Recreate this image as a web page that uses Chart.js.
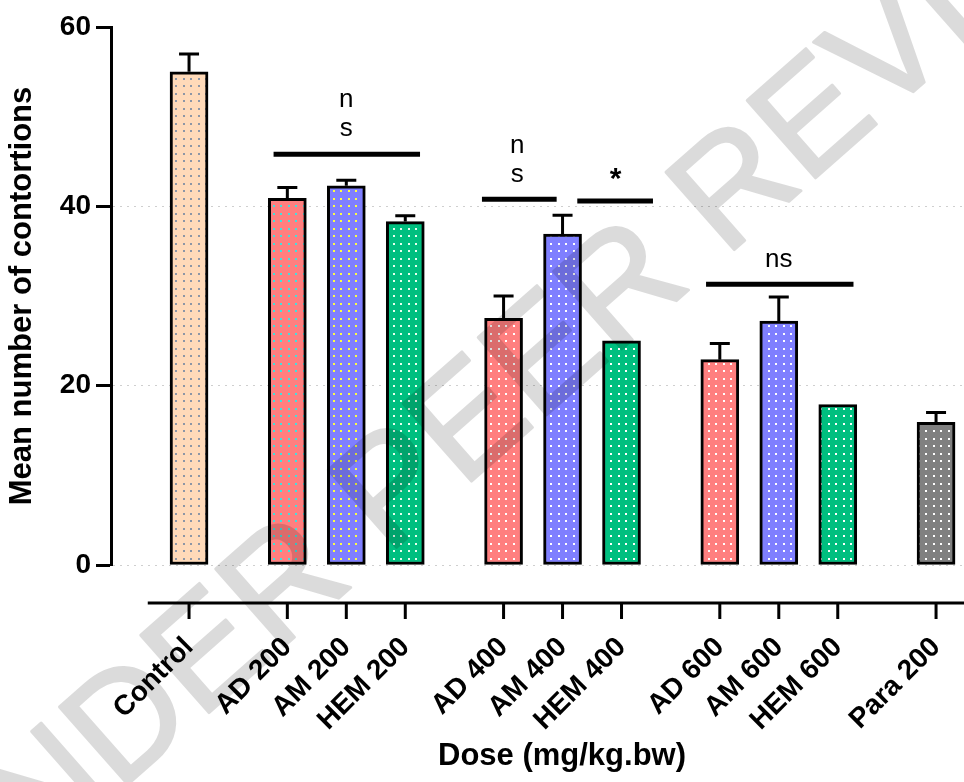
<!DOCTYPE html>
<html>
<head>
<meta charset="utf-8">
<script src="https://cdn.jsdelivr.net/npm/chart.js@4.4.1/dist/chart.umd.min.js"></script>
<style>
  html, body { margin: 0; padding: 0; background: #fff; }
  #wrap { width: 964px; height: 782px; position: relative; }
</style>
</head>
<body>
<div id="wrap"><canvas id="chart"></canvas></div>
<script>
const labels = ['Control', 'AD 200', 'AM 200', 'HEM 200', 'AD 400', 'AM 400', 'HEM 400', 'AD 600', 'AM 600', 'HEM 600', 'Para 200'];
const groupOf = [0, 1, 1, 1, 2, 2, 2, 3, 3, 3, 4];
const means = [55.0, 40.9, 42.3, 38.3, 27.5, 36.9, 25.0, 22.9, 27.2, 17.9, 15.9];
const sems = [2.0, 1.2, 0.6, 0.65, 2.5, 2.1, 0, 1.8, 2.7, 0, 1.1];
const yTicks = [0, 20, 40, 60];

// significance bars (x in slot units, y in data units) and their labels
const sigLines = [
  { from: 4.3, to: 11.75, y: 45.8 },
  { from: 14.9, to: 18.7, y: 40.8 },
  { from: 19.75, to: 23.6, y: 40.6 },
  { from: 26.3, to: 33.8, y: 31.3 }
];
const sigTexts = [
  { x: 8, y: 51.9, t: 'n' }, { x: 8, y: 48.6, t: 's' },
  { x: 16.7, y: 46.8, t: 'n' }, { x: 16.7, y: 43.5, t: 's' },
  { x: 21.7, y: 43.0, t: '*', bold: true },
  { x: 30, y: 34.0, t: 'ns' }
];

// three slots per bar, two extra slots between dose groups
const xPos = labels.map((_, i) => i * 3 + groupOf[i] * 2);

const FONT = '"Liberation Sans", Arial, sans-serif';
Chart.defaults.font.family = FONT;
Chart.defaults.color = '#000';

function dots(bg, dot) {
  const c = document.createElement('canvas');
  c.width = 15; c.height = 15;
  const g = c.getContext('2d');
  g.fillStyle = bg; g.fillRect(0, 0, 15, 15);
  g.fillStyle = dot;
  [[3, 3], [10, 3], [3, 10], [10, 10]].forEach(p => g.fillRect(p[0], p[1], 2, 2));
  return g.createPattern(c, 'repeat');
}
const fills = [
  dots('#ffdab9', '#8c96a6'),
  dots('#ff7f7f', '#40e0e0'), dots('#7f7fff', '#ffff40'), dots('#00bf7f', '#e8fff0'),
  dots('#ff7f7f', '#ffffff'), dots('#7f7fff', '#ffffff'), dots('#00bf7f', '#ffffff'),
  dots('#ff7f7f', '#ffffff'), dots('#7f7fff', '#ffffff'), dots('#00bf7f', '#ffffff'),
  dots('#808080', '#ffffff')
];

const extras = {
  id: 'extras',
  afterDatasetsDraw(chart) {
    const { ctx, chartArea, scales: { x, y } } = chart;
    const meta = chart.getDatasetMeta(0);
    ctx.save();
    ctx.strokeStyle = '#000';
    ctx.lineWidth = 3;
    // error bars (upper only)
    meta.data.forEach((bar, i) => {
      if (!sems[i]) return;
      const top = y.getPixelForValue(means[i] + sems[i]);
      ctx.beginPath();
      ctx.moveTo(bar.x, bar.y);
      ctx.lineTo(bar.x, top);
      ctx.moveTo(bar.x - 10, top);
      ctx.lineTo(bar.x + 10, top);
      ctx.stroke();
    });
    // detached x axis
    const ay = chartArea.bottom + 38;
    ctx.beginPath();
    ctx.moveTo(x.getPixelForValue(-2.1), ay);
    ctx.lineTo(chart.width, ay);
    xPos.forEach(v => {
      const px = x.getPixelForValue(v);
      ctx.moveTo(px, ay);
      ctx.lineTo(px, ay + 16);
    });
    ctx.stroke();
    // significance marks
    ctx.lineWidth = 5;
    sigLines.forEach(s => {
      const py = y.getPixelForValue(s.y);
      ctx.beginPath();
      ctx.moveTo(x.getPixelForValue(s.from), py);
      ctx.lineTo(x.getPixelForValue(s.to), py);
      ctx.stroke();
    });
    ctx.fillStyle = '#000';
    ctx.textAlign = 'center';
    ctx.textBaseline = 'middle';
    sigTexts.forEach(s => {
      ctx.font = (s.bold ? 'bold 30px ' : '26px ') + FONT;
      ctx.fillText(s.t, x.getPixelForValue(s.x), y.getPixelForValue(s.y));
    });
    // x axis title
    ctx.font = 'bold 31px ' + FONT;
    ctx.fillText('Dose (mg/kg.bw)', 562, 756);
    ctx.restore();
  },
  afterDraw(chart) {
    // review watermark, drawn opaque off-screen then laid over at low alpha
    const off = document.createElement('canvas');
    off.width = chart.width; off.height = chart.height;
    const g = off.getContext('2d');
    g.translate(535, 370);
    g.rotate(-41.4 * Math.PI / 180);
    g.font = '150px ' + FONT;
    g.fillStyle = '#000';
    g.strokeStyle = '#000';
    g.lineWidth = 3;
    g.lineJoin = 'round';
    g.textAlign = 'center';
    g.textBaseline = 'middle';
    g.fillText('UNDER PEER REVIEW', 0, 0);
    g.strokeText('UNDER PEER REVIEW', 0, 0);
    const { ctx } = chart;
    ctx.save();
    ctx.globalAlpha = 0.14;
    ctx.drawImage(off, 0, 0);
    ctx.restore();
  }
};

new Chart(document.getElementById('chart'), {
  type: 'bar',
  data: {
    datasets: [{
      data: means.map((m, i) => ({ x: xPos[i], y: m })),
      backgroundColor: fills,
      borderColor: '#000',
      borderWidth: 3,
      borderSkipped: false,
      barThickness: 38
    }]
  },
  options: {
    responsive: true,
    maintainAspectRatio: false,
    animation: false,
    layout: { padding: { top: 27, right: 2, left: 0, bottom: 0 } },
    plugins: { legend: { display: false }, tooltip: { enabled: false } },
    scales: {
      x: {
        type: 'linear', min: -3.97, max: 39.32, offset: false,
        grid: { display: true, offset: false, drawOnChartArea: false, drawTicks: true, tickLength: 66, color: 'rgba(0,0,0,0)', tickColor: 'rgba(0,0,0,0)' },
        border: { display: false },
        afterBuildTicks: s => { s.ticks = xPos.map(v => ({ value: v })); },
        afterFit: s => { s.height = 217; },
        ticks: {
          autoSkip: false, minRotation: 45, maxRotation: 45, padding: 0,
          font: { size: 28, weight: 'bold' },
          callback: (v, i) => labels[i]
        }
      },
      y: {
        min: 0, max: 60,
        afterBuildTicks: s => { s.ticks = yTicks.map(v => ({ value: v })); },
        afterFit: s => { s.width = 111; },
        grid: {
          color: c => (c.tick && c.tick.value === 60) ? 'rgba(0,0,0,0)' : '#cfcfcf',
          lineWidth: 1, tickColor: '#000', tickWidth: 3, tickLength: 15
        },
        border: { display: true, color: '#000', width: 3, dash: [2, 5] },
        ticks: { padding: 5, font: { size: 28, weight: 'bold' } },
        title: {
          display: true, text: 'Mean number of contortions',
          font: { size: 31, weight: 'bold' }, padding: { top: 4, bottom: 4 }
        }
      }
    }
  },
  plugins: [extras]
});
</script>
</body>
</html>
